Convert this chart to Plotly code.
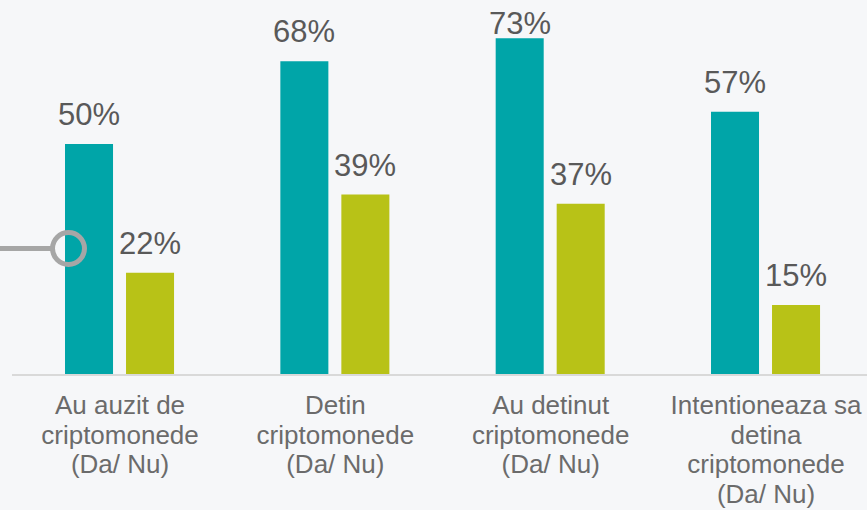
import plotly.graph_objects as go

categories = ["Au auzit de<br>criptomonede<br>(Da/ Nu)",
              "Detin<br>criptomonede<br>(Da/ Nu)",
              "Au detinut<br>criptomonede<br>(Da/ Nu)",
              "Intentioneaza sa<br>detina<br>criptomonede<br>(Da/ Nu)"]
da_values = [50, 68, 73, 57]
nu_values = [22, 39, 37, 15]
value_labels_da = ["50%", "68%", "73%", "57%"]
value_labels_nu = ["22%", "39%", "37%", "15%"]

TEAL = "#00A5A8"
OLIVE = "#B8C217"
BG = "#F6F7F9"

W, H = 867, 510
ML, MR, MT, MB = 12, 0, 0, 136
plot_w = W - ML - MR
plot_h = H - MT - MB
YMAX = 81.3

idx = list(range(len(categories)))
bar_w = 0.223
off_da = -0.2554
off_nu = 0.0279

# glyphs at 26px with the tighter line spacing of a 23px font
tick_text = ["<br>".join("<span style='font-size:26px'>" + ln + "</span>" for ln in c.split("<br>"))
             for c in categories]

fig = go.Figure()
fig.add_trace(go.Bar(x=idx, y=da_values, width=bar_w, offset=off_da,
                     marker=dict(color=TEAL, line=dict(width=0)), name="Da", hoverinfo="skip"))
fig.add_trace(go.Bar(x=idx, y=nu_values, width=bar_w, offset=off_nu,
                     marker=dict(color=OLIVE, line=dict(width=0)), name="Nu", hoverinfo="skip"))

def label_shift(v):
    top_px = plot_h - v * plot_h / YMAX
    cap_top = top_px - 18 - 22
    return 10 - max(0, 13 - cap_top)

annotations = []
for i, v, t in zip(idx, da_values, value_labels_da):
    annotations.append(dict(x=i + off_da + bar_w / 2, y=v, xref="x", yref="y",
                            text=t, showarrow=False, yanchor="bottom",
                            yshift=label_shift(v),
                            font=dict(family="Liberation Sans, Arial", size=31, color="#595959")))
for i, v, t in zip(idx, nu_values, value_labels_nu):
    annotations.append(dict(x=i + off_nu + bar_w / 2, y=v, xref="x", yref="y",
                            text=t, showarrow=False, yanchor="bottom",
                            yshift=label_shift(v),
                            font=dict(family="Liberation Sans, Arial", size=31, color="#595959")))

# decorative callout: line + ring at left
ring_y = (plot_h - 248.5) / plot_h
shapes = [
    dict(type="line", xref="paper", yref="paper", x0=-ML / plot_w, x1=(52 - ML) / plot_w,
         y0=ring_y, y1=ring_y, line=dict(color="#A6A6A6", width=5)),
    dict(type="circle", xref="paper", yref="paper", xsizemode="pixel", ysizemode="pixel",
         xanchor=(68.5 - ML) / plot_w, yanchor=ring_y, x0=-16, x1=16, y0=-16, y1=16,
         line=dict(color="#A6A6A6", width=5), fillcolor="rgba(0,0,0,0)"),
]

fig.update_layout(
    width=W, height=H,
    margin=dict(l=ML, r=MR, t=MT, b=MB, pad=0),
    paper_bgcolor=BG, plot_bgcolor=BG,
    barmode="overlay", showlegend=False,
    annotations=annotations, shapes=shapes,
    font=dict(family="Liberation Sans, Arial"),
)
fig.update_xaxes(range=[-0.5016, 3.469], tickvals=idx, ticktext=tick_text, automargin=False,
                 showgrid=False, zeroline=False, showline=True, linecolor="#D9D9D9", linewidth=2,
                 ticks="outside", ticklen=10, tickcolor="rgba(0,0,0,0)",
                 tickfont=dict(family="Liberation Sans, Arial", size=23, color="#6B6B6B"))
fig.update_yaxes(range=[0, YMAX], visible=False, showgrid=False, zeroline=False, automargin=False)

fig.write_html("out.html", config={"displayModeBar": False},
               post_script="document.body.style.margin='0';document.body.style.background='" + BG + "';")
